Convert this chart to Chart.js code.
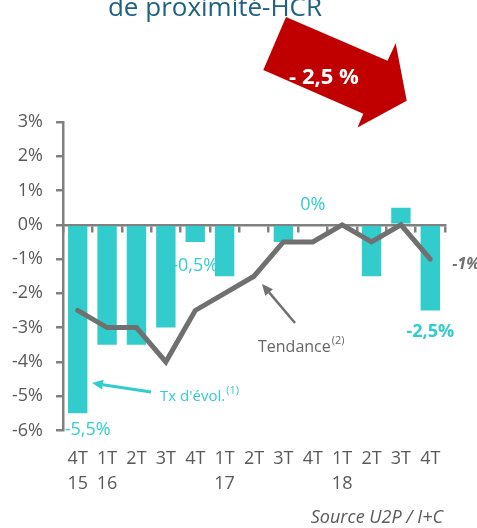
<!DOCTYPE html>
<html lang="fr">
<head>
<meta charset="UTF-8">
<title>Evolution proximité-HCR</title>
<script src="https://cdn.jsdelivr.net/npm/chart.js"></script>
<style>
  body { margin: 0; background: #fff; }
  #wrap { width: 477px; height: 528px; }
</style>
</head>
<body>
<div id="wrap"><canvas id="evol" width="477" height="528"></canvas></div>
<script>
const trimestres = [['4T', '15'], ['1T', '16'], ['2T', ''], ['3T', ''], ['4T', ''], ['1T', '17'], ['2T', ''], ['3T', ''], ['4T', ''], ['1T', '18'], ['2T', ''], ['3T', ''], ['4T', '']];
const txEvol = [-5.5, -3.5, -3.5, -3, -0.5, -1.5, 0, -0.5, 0, 0, -1.5, 0.5, -2.5];
const tendance = [-2.5, -3, -3, -4, -2.5, -2, -1.5, -0.5, -0.5, 0, -0.5, 0, -1];
const yTicks = [3, 2, 1, 0, -1, -2, -3, -4, -5, -6];

const turq = '#33cccc';
const gris = '#707070';
const txt = '#595959';
const FONT = '"Open Sans", sans-serif';

function fleche(ctx, x1, y1, x2, y2, color, w) {
  const a = Math.atan2(y2 - y1, x2 - x1), hl = 11, hw = 5;
  const bx = x2 - hl * Math.cos(a), by = y2 - hl * Math.sin(a);
  ctx.strokeStyle = color;
  ctx.lineWidth = w;
  ctx.beginPath();
  ctx.moveTo(x1, y1);
  ctx.lineTo(bx, by);
  ctx.stroke();
  ctx.fillStyle = color;
  ctx.beginPath();
  ctx.moveTo(x2, y2);
  ctx.lineTo(bx + hw * Math.sin(a), by - hw * Math.cos(a));
  ctx.lineTo(bx - hw * Math.sin(a), by + hw * Math.cos(a));
  ctx.closePath();
  ctx.fill();
}

function texteExp(ctx, s, exp, x, y, color, size) {
  ctx.fillStyle = color;
  ctx.textAlign = 'left';
  ctx.textBaseline = 'middle';
  ctx.font = size + 'px ' + FONT;
  ctx.fillText(s, x, y);
  const w = ctx.measureText(s).width;
  ctx.font = '11px ' + FONT;
  ctx.fillText(exp, x + w + 1, y - 6);
}

const annotations = {
  id: 'annotations',
  afterDatasetsDraw(chart) {
    const { ctx } = chart;
    const x = chart.scales.x, y = chart.scales.y;
    ctx.save();
    ctx.textBaseline = 'middle';
    ctx.fillStyle = turq;
    ctx.font = '18px ' + FONT;
    ctx.textAlign = 'left';
    ctx.fillText('-5,5%', x.getPixelForValue(0) - 13, y.getPixelForValue(txEvol[0]) + 17);
    ctx.textAlign = 'center';
    ctx.fillText('-0,5%', x.getPixelForValue(4), y.getPixelForValue(txEvol[4]) + 24);
    ctx.fillText('0%', x.getPixelForValue(8), y.getPixelForValue(txEvol[8]) - 20);
    ctx.font = 'bold 18px ' + FONT;
    ctx.fillText('-2,5%', x.getPixelForValue(12), y.getPixelForValue(txEvol[12]) + 21);
    ctx.fillStyle = gris;
    ctx.textAlign = 'left';
    ctx.font = 'italic bold 16px ' + FONT;
    ctx.fillText('-1%', x.getPixelForValue(12) + 22, y.getPixelForValue(tendance[12]) + 5);

    texteExp(ctx, 'Tendance', '(2)', 258, 347, '#666666', 16);
    texteExp(ctx, "Tx d'évol.", '(1)', 160, 397, turq, 15);
    fleche(ctx, 295, 323, 262, 284, gris, 2.5);
    fleche(ctx, 151, 392, 92, 383, turq, 3);

    ctx.fillStyle = txt;
    ctx.font = 'italic 18px ' + FONT;
    ctx.textAlign = 'right';
    ctx.fillText('Source U2P / I+C', 443, 518);
    ctx.restore();
  },
  afterDraw(chart) {
    const { ctx } = chart;
    ctx.save();
    ctx.fillStyle = '#1f6182';
    ctx.font = '26px ' + FONT;
    ctx.textAlign = 'center';
    ctx.textBaseline = 'alphabetic';
    ctx.fillText('de proximité-HCR', 215, 16);

    // grosse flèche rouge
    ctx.fillStyle = '#c00000';
    ctx.beginPath();
    ctx.moveTo(286, 17);
    ctx.lineTo(387.5, 60.7);
    ctx.lineTo(395.7, 43.3);
    ctx.lineTo(406.7, 100.7);
    ctx.lineTo(357.5, 127.5);
    ctx.lineTo(363.3, 113.7);
    ctx.lineTo(263.3, 70);
    ctx.closePath();
    ctx.fill();
    ctx.fillStyle = '#ffffff';
    ctx.font = 'bold 22px ' + FONT;
    ctx.textBaseline = 'middle';
    ctx.fillText('- 2,5 %', 324, 78);
    ctx.restore();
  }
};

new Chart(document.getElementById('evol'), {
  type: 'bar',
  data: {
    labels: trimestres,
    datasets: [
      {
        type: 'line',
        label: 'Tendance',
        data: tendance,
        borderColor: gris,
        borderWidth: 5,
        borderCapStyle: 'round',
        pointRadius: 0,
        tension: 0,
        order: 0
      },
      {
        label: "Tx d'évol.",
        data: txEvol,
        backgroundColor: turq,
        barPercentage: 0.66,
        categoryPercentage: 1,
        order: 1
      }
    ]
  },
  options: {
    responsive: false,
    animation: false,
    layout: { padding: { left: 11, right: 32, top: 122, bottom: 23.5 } },
    plugins: { legend: { display: false }, tooltip: { enabled: false } },
    scales: {
      x: {
        position: 'bottom',
        grid: { display: false },
        border: { display: false },
        ticks: { color: txt, font: { family: FONT, size: 18, lineHeight: 1.42 }, padding: 7.5, maxRotation: 0, autoSkip: false }
      },
      x2: {
        type: 'category',
        labels: trimestres,
        offset: true,
        position: { y: 0 },
        grid: { offset: true, drawOnChartArea: false, drawTicks: true, tickLength: 6, color: '#808080', lineWidth: 2.5 },
        border: { color: '#808080', width: 2.5 },
        ticks: { display: false }
      },
      y: {
        min: yTicks[yTicks.length - 1],
        max: yTicks[0],
        ticks: { stepSize: 1, color: txt, font: { family: FONT, size: 18 }, padding: 13, callback: v => v + '%' },
        grid: { drawOnChartArea: false, tickLength: 7, color: '#808080', lineWidth: 2.5 },
        border: { color: '#808080', width: 2.5 },
        afterFit(s) { s.width = 52; }
      }
    }
  },
  plugins: [annotations]
});
</script>
</body>
</html>
